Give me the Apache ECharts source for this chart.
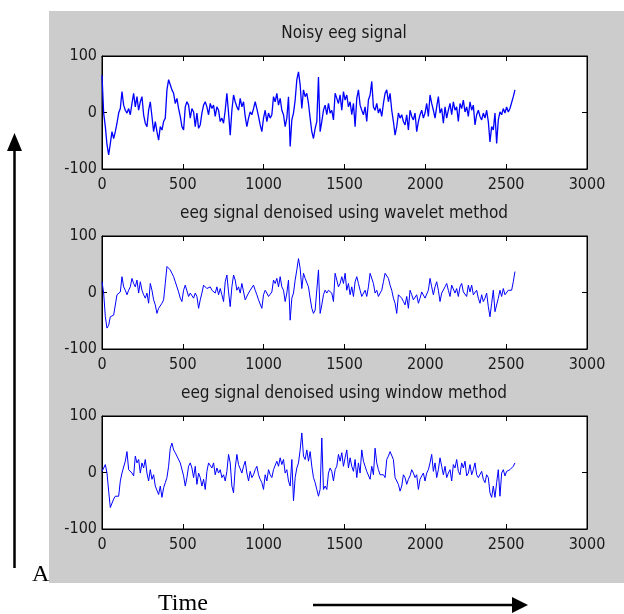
<!DOCTYPE html>
<html>
<head>
<meta charset="utf-8">
<script src="https://cdn.jsdelivr.net/npm/echarts@6/dist/echarts.min.js"></script>
<style>
    body { margin: 0; background: #ffffff; }
    #chart { width: 624px; height: 614px; }
</style>
</head>
<body>
<div id="chart"></div>
<script>
// sample spacing of the values (time units)
const STEP = 10.3;

const xTicks = [0, 500, 1000, 1500, 2000, 2500, 3000];
const yTicks = [-100, 0, 100];

const titles = [
    'Noisy eeg signal',
    'eeg signal denoised using wavelet method',
    'eeg signal denoised using window method'
];

const noisy = [
    66, -1, -25, -57, -75, -55, -34, -46, -34, -19,
    -1, 7, 37, 13, 4, -1, 7, -4, 16, 34,
    10, 28, 4, 19, 28, -4, -19, -25, 4, 19,
    -7, -34, -16, -34, -49, -25, -31, -16, -10, 40,
    58, 49, 40, 34, 16, 25, 7, -7, -25, -31,
    10, 19, 13, -10, 7, 1, -25, -1, -28, -22,
    -1, 13, 19, 10, -4, 16, 7, 13, -7, 10,
    4, -16, -10, -19, 4, 34, -1, -40, 4, 31,
    19, 10, 4, 25, 10, 19, -7, -25, -10, 1,
    -4, 7, 19, 7, -7, -22, -34, -10, 4, -16,
    -1, -10, -4, 28, 19, 34, 13, 25, 4, -4,
    -25, -10, 28, -60, -13, -1, 22, 58, 72, 49,
    7, 40, 28, 34, 16, -10, -34, -46, -28, -16,
    63, -34, -16, 4, 13, -4, 16, -1, 4, -13,
    34, 25, 16, 31, 4, 37, 22, 31, 10, 19,
    -4, 16, -25, 25, 40, 13, 4, -4, 10, -16,
    22, 31, 55, 10, 4, 16, -1, 7, -7, 16,
    34, 40, 19, 34, 4, -16, -40, -25, -1, -10,
    -4, -16, -22, -4, -31, 4, -7, -13, -1, -34,
    -16, -4, 4, -10, -1, 16, -7, 31, 16, 4,
    -10, 10, 28, -1, 7, -19, 10, -10, 4, 16,
    -4, 19, 4, 10, -16, 16, 7, 22, 1, 10,
    -7, 19, 4, 13, -22, -4, 4, -7, -13, -1,
    -10, 4, -16, -52, -25, -31, -1, -55, -13, 1,
    -4, 7, -1, 10, 1, 7, 10, 28, 40
];

const wavelet = [
    19, -1, -43, -63, -58, -43, -40, -40, -37, -4,
    -1, 1, 28, 10, 4, -4, 4, 10, 25, 16,
    10, 22, -1, 19, 4, -4, -10, -1, -19, 16,
    4, -13, -22, -37, -28, -31, -19, -13, 16, 46,
    49, 40, 34, 28, 19, 10, 1, -10, -16, 4,
    13, 13, -7, -1, -4, -10, -1, -7, -28, -13,
    -1, 13, 10, 7, 4, 10, 4, 1, -1, 10,
    -4, 7, -4, -16, 19, 31, 1, -25, 10, 31,
    22, 4, 10, -1, 16, 16, -13, -10, -1, 4,
    7, 13, 4, -4, -13, -10, -28, -4, 4, -1,
    -7, -4, 1, 22, 16, 25, 10, 28, 10, 4,
    -16, -1, 22, -49, -10, -1, 22, 40, 60, 43,
    7, 34, 25, 28, 10, -10, -28, -37, -31, -34,
    40, -37, -22, -4, 4, -1, 4, 4, -1, -16,
    34, 22, 10, 16, 28, 16, 34, 4, 16, -4,
    10, -7, 19, 28, 16, 4, -7, -4, 4, -7,
    10, 34, 31, 16, -1, 4, -7, -1, 4, 19,
    34, 31, 25, 13, 4, -10, -19, -37, -4, -1,
    -10, -16, -22, -7, -28, 4, -4, -13, -10, -4,
    -19, -10, 1, -1, -10, -13, 4, 25, 10, -4,
    10, 19, 4, -16, -1, -4, 10, 16, 4, -7,
    13, 16, -1, 7, -7, 10, 16, 1, 4, -7,
    13, 1, 13, -4, -1, 4, -10, -19, -4, -16,
    -10, -1, -25, -43, -19, 4, -34, -37, -10, 4,
    -7, 7, -4, -1, 4, 7, 4, 19, 37
];

const windowed = [
    2, -1, 14, -1, -33, -62, -65, -47, -42, -39,
    -42, -15, -1, 2, 20, 37, 5, 2, -1, -6,
    29, 17, 23, -1, 17, 8, 23, -1, -15, 5,
    -12, -4, -24, -21, -39, -24, -44, -27, -18, -9,
    11, 43, 52, 40, 35, 29, 26, 17, 14, -6,
    -24, -9, 11, 17, 8, -9, 11, -21, -1, -9,
    -24, -12, -30, 2, 17, 14, 8, 17, -4, 8,
    -1, 5, -9, -4, -15, 2, 32, 17, -24, -36,
    8, 32, 14, 11, -1, 11, 20, -1, -15, 2,
    -9, -4, 5, 11, -4, -12, -18, -30, -4, -15,
    5, -4, -9, 5, 2, 20, 11, 26, 14, 23,
    -1, 5, -15, -24, 23, -50, -9, 8, 17, 40,
    70, 29, 23, 40, 20, 37, 11, -9, -18, -30,
    -42, -30, 61, -30, -24, -30, -1, 8, 2, -15,
    5, 11, 32, 20, 35, 11, 26, 40, 8, 26,
    11, 2, 23, -9, 17, -1, 40, 20, 11, 2,
    -1, -12, 11, -4, 43, 17, 5, -4, -1, -4,
    -9, 23, 29, 37, 35, 23, -9, -6, -21, -33,
    -24, -4, -9, -21, -12, -6, 5, -1, -9, -4,
    -30, -12, -6, -1, -15, -1, 5, 17, 32, 2,
    17, -9, 5, 26, 11, -4, 11, -9, -1, 5,
    -15, 14, 8, 23, 2, -4, 17, 8, 20, -6,
    -1, 14, -4, 5, 17, -4, -9, -12, 2, -12,
    -18, -4, -9, -36, -44, -24, -44, -18, 5, -42,
    -1, 5, -6, 2, -1, 5, 8, 11, 17
];

const signals = [noisy, wavelet, windowed];

const tickFont = "'Liberation Sans Narrow', 'DejaVu Sans Condensed', 'Liberation Sans', Arial, sans-serif";
const gridTops = [56, 236, 416];

const chart = echarts.init(document.getElementById('chart'), null, {renderer: 'canvas'});

const grid = [];
const xAxis = [];
const yAxis = [];
const series = [];
const title = [];

gridTops.forEach((top, g) => {
    grid.push({
        left: 102, right: 37, top: top, height: 113,
        show: true, backgroundColor: '#ffffff',
        borderColor: '#000000', borderWidth: 1
    });

    title.push({
        text: titles[g],
        left: 344, top: top - 31, textAlign: 'center',
        padding: 0,
        textStyle: {fontFamily: tickFont, fontSize: 17, fontWeight: 'normal', color: '#1a1a1a'}
    });

    const xBase = {
        type: 'value', gridIndex: g,
        min: xTicks[0], max: xTicks[xTicks.length - 1], interval: xTicks[1] - xTicks[0],
        splitLine: {show: false},
        axisLine: {show: true, onZero: false, lineStyle: {color: '#000000', width: 1}},
        axisTick: {show: true, inside: true, length: 5, lineStyle: {color: '#000000'}}
    };
    xAxis.push(Object.assign({}, xBase, {
        position: 'bottom',
        axisLabel: {
            show: true, margin: 8, fontFamily: tickFont, fontSize: 16, color: '#1a1a1a',
            formatter: v => String(v)
        }
    }));
    xAxis.push(Object.assign({}, xBase, {position: 'top', axisLabel: {show: false}}));

    const yBase = {
        type: 'value', gridIndex: g,
        min: yTicks[0], max: yTicks[yTicks.length - 1], interval: yTicks[1] - yTicks[0],
        splitLine: {show: false},
        axisLine: {show: true, onZero: false, lineStyle: {color: '#000000', width: 1}},
        axisTick: {show: true, inside: true, length: 5, lineStyle: {color: '#000000'}}
    };
    yAxis.push(Object.assign({}, yBase, {
        position: 'left',
        axisLabel: {
            show: true, margin: 5, fontFamily: tickFont, fontSize: 16, color: '#1a1a1a',
            formatter: v => String(v)
        }
    }));
    yAxis.push(Object.assign({}, yBase, {position: 'right', axisLabel: {show: false}}));

    series.push({
        type: 'line',
        xAxisIndex: g * 2,
        yAxisIndex: g * 2,
        showSymbol: false,
        silent: true,
        lineStyle: {color: '#0000ff', width: g === 0 ? 1.3 : 1},
        data: signals[g].map((v, i) => [i * STEP, v])
    });
});

const option = {
    animation: false,
    backgroundColor: '#ffffff',
    title: title,
    grid: grid,
    xAxis: xAxis,
    yAxis: yAxis,
    series: series,
    graphic: [
        // grey figure background
        {type: 'rect', z: -10, silent: true, shape: {x: 49, y: 11, width: 575, height: 572}, style: {fill: '#cccccc'}},
        // amplitude arrow
        {type: 'line', silent: true, shape: {x1: 14.5, y1: 568, x2: 14.5, y2: 148}, style: {stroke: '#000000', lineWidth: 2.5}},
        {type: 'polygon', silent: true, shape: {points: [[14.5, 133], [7, 151], [22, 151]]}, style: {fill: '#000000'}},
        // time arrow
        {type: 'line', silent: true, shape: {x1: 313, y1: 605, x2: 515, y2: 605}, style: {stroke: '#000000', lineWidth: 2.5}},
        {type: 'polygon', silent: true, shape: {points: [[528, 605], [512, 597], [512, 613]]}, style: {fill: '#000000'}},
        {type: 'text', silent: true, left: 32, top: 563, style: {text: 'A', font: "24px 'Liberation Serif', 'Times New Roman', serif", fill: '#000000'}},
        {type: 'text', silent: true, left: 158, top: 592, style: {text: 'Time', font: "24px 'Liberation Serif', 'Times New Roman', serif", fill: '#000000'}}
    ]
};

chart.setOption(option);
</script>
</body>
</html>
